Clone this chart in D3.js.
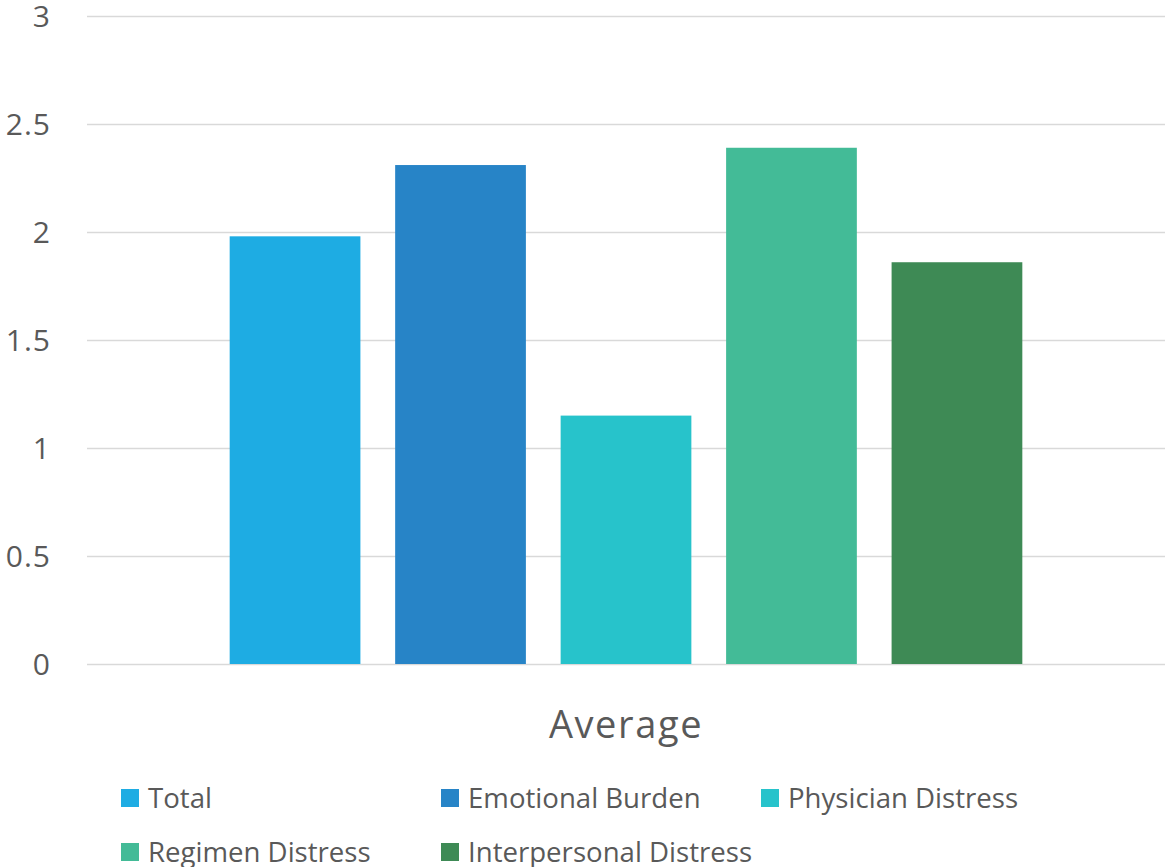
<!DOCTYPE html>
<html>
<head>
<meta charset="utf-8">
<script src="https://cdn.jsdelivr.net/npm/d3@7"></script>
<style>
  html, body { margin: 0; padding: 0; background: #fff; }
  svg { display: block; }
  text { font-family: "Open Sans", "Noto Sans", sans-serif; fill: #595959; }
</style>
</head>
<body>
<svg id="chart" width="1168" height="867"></svg>
<script>
// Average scores by distress domain
const categories = ["Average"];
const seriesNames = ["Total", "Emotional Burden", "Physician Distress", "Regimen Distress", "Interpersonal Distress"];
const seriesValues = [1.98, 2.31, 1.15, 2.39, 1.86];
const seriesColors = ["#1EACE3", "#2784C7", "#27C3CB", "#43BB97", "#3E8A55"];
const yTicks = [0, 0.5, 1, 1.5, 2, 2.5, 3];

const svg = d3.select("#chart");
const plot = { left: 87, right: 1165, top: 16, bottom: 664 };

const y = d3.scaleLinear().domain([0, 3]).range([plot.bottom, plot.top]);
const x0 = d3.scaleBand().domain(categories).range([plot.left, plot.right]).paddingInner(0).paddingOuter(0.18);
const x1 = d3.scaleBand().domain(seriesNames).range([0, x0.bandwidth()]).paddingInner(0.21).paddingOuter(0);

// gridlines and value labels
const yAxis = d3.axisLeft(y).tickValues(yTicks).tickSize(-(plot.right - plot.left)).tickFormat(d3.format("~g"));
const gAxis = svg.append("g").attr("transform", `translate(${plot.left},0)`).call(yAxis);
gAxis.select(".domain").remove();
gAxis.selectAll(".tick line").attr("stroke", "#d9d9d9").attr("stroke-width", 1.5);
gAxis.selectAll(".tick text")
  .attr("x", -36)
  .attr("dy", "0.36em")
  .style("font-size", "30px")
  .style("letter-spacing", "1px")
  .attr("fill", "#595959");

// bars
const groups = svg.append("g").selectAll("g").data(categories).join("g")
  .attr("transform", d => `translate(${x0(d)},0)`);
groups.selectAll("rect")
  .data(seriesNames.map((name, i) => ({ name, value: seriesValues[i], color: seriesColors[i] })))
  .join("rect")
  .attr("x", d => x1(d.name))
  .attr("width", x1.bandwidth())
  .attr("y", d => y(d.value))
  .attr("height", d => y(0) - y(d.value))
  .attr("fill", d => d.color);

// category label
svg.append("text")
  .attr("x", x0("Average") + x0.bandwidth() / 2)
  .attr("y", 738)
  .attr("text-anchor", "middle")
  .style("font-size", "38px")
  .style("letter-spacing", "1.6px")
  .text(categories[0]);

// legend
const legendPos = [
  { x: 121, y: 798 }, { x: 441, y: 798 }, { x: 761, y: 798 },
  { x: 121, y: 852 }, { x: 441, y: 852 }
];
const legend = svg.append("g").selectAll("g").data(seriesNames).join("g")
  .attr("transform", (d, i) => `translate(${legendPos[i].x},${legendPos[i].y})`);
legend.append("rect")
  .attr("x", 0).attr("y", -9).attr("width", 18).attr("height", 18)
  .attr("fill", (d, i) => seriesColors[i]);
legend.append("text")
  .attr("x", 27).attr("y", 0).attr("dy", "0.36em")
  .style("font-size", "27.6px")
  .text(d => d);
</script>
</body>
</html>
